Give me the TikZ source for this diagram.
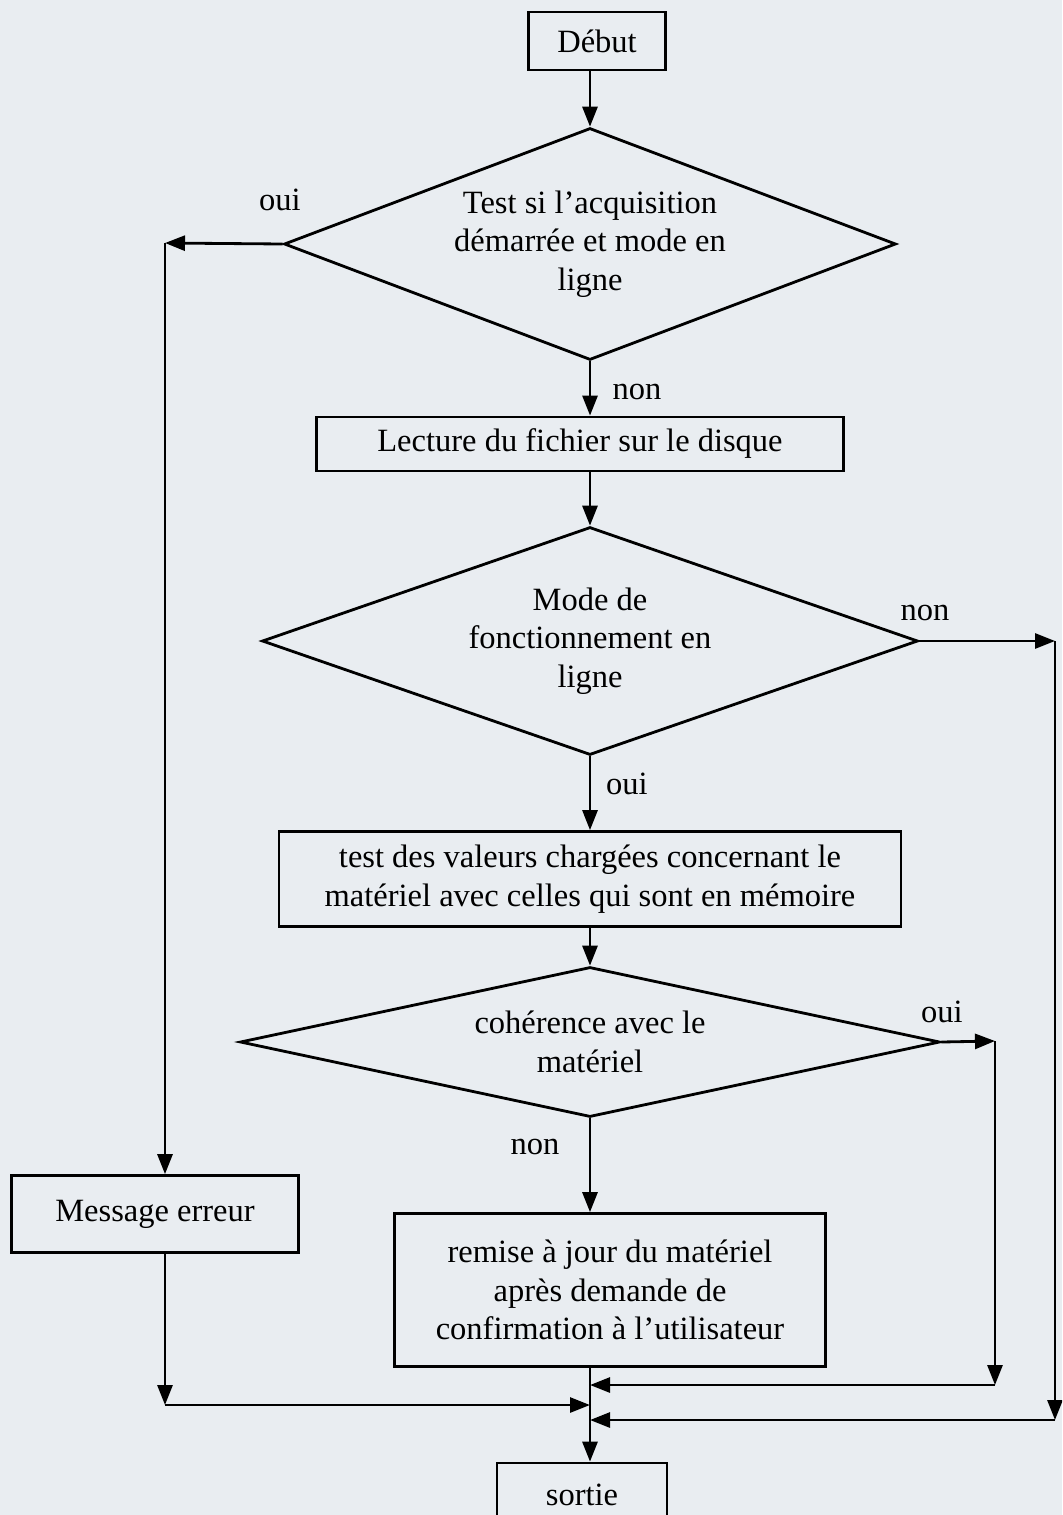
\documentclass[tikz,border=0pt]{standalone}
\usepackage{fontspec}
\setmainfont{Liberation Serif}
\usetikzlibrary{arrows.meta,shapes.geometric,positioning}
\definecolor{paper}{RGB}{233,237,241}

\begin{document}
\begin{tikzpicture}[x=0.02cm,y=-0.02cm,font=\fontsize{18.5}{22}\selectfont,line width=1.6pt,
  >={Triangle[length=4mm,width=3mm]},
  boite/.style={draw,rectangle,align=center,inner sep=0pt},
  losange/.style={draw,diamond,align=center,inner sep=0pt},
  lab/.style={inner sep=0pt}]
\clip (0,0) rectangle (1062,1515);
\fill[paper] (0,0) rectangle (1062,1515);
% blocs
\node[boite,minimum width=2.74cm,minimum height=1.16cm] (debut) at (597,41) {Début};
\node[losange,aspect=2.64,minimum width=12.24cm,minimum height=4.64cm] (d1) at (590,244)
  {Test si l’acquisition\\démarrée et mode en\\ligne};
\node[boite,minimum width=10.54cm,minimum height=1.08cm] (lecture) at (580,444)
  {Lecture du fichier sur le disque};
\node[losange,aspect=2.88,minimum width=13.12cm,minimum height=4.56cm] (d2) at (590,641)
  {Mode de\\fonctionnement en\\ligne};
\node[boite,minimum width=12.44cm,minimum height=1.9cm] (test) at (590,879)
  {test des valeurs chargées concernant le\\matériel avec celles qui sont en mémoire};
\node[losange,aspect=4.67,minimum width=14cm,minimum height=3cm] (d3) at (590,1042)
  {cohérence avec le\\matériel};
\node[boite,minimum width=5.74cm,minimum height=1.54cm] (msg) at (155,1214) {Message erreur};
\node[boite,minimum width=8.62cm,minimum height=3.06cm] (remise) at (610,1290)
  {remise à jour du matériel\\après demande de\\confirmation à l’utilisateur};
\node[boite,minimum width=3.4cm,minimum height=1.28cm] (sortie) at (582,1495) {sortie};
% etiquettes
\node[lab] (l1) at (280,200) {oui};
\node[lab] (l2) at (637,392) {non};
\node[lab] (l3) at (925,613) {non};
\node[lab] (l4) at (627,784) {oui};
\node[lab] (l5) at (942,1012) {oui};
\node[lab] (l6) at (535,1147) {non};
% liaisons
\coordinate (g1) at (165,243);
\coordinate (g2) at (165,1405);
\coordinate (dr1) at (1055,641);
\coordinate (dr2) at (1055,1420);
\coordinate (cr1) at (995,1041);
\coordinate (cr2) at (995,1385);
\draw[->] (d1.north |- debut.south) -- (d1.north);
\draw[->] (d1.south) -- (d1.south |- lecture.north);
\draw[->] (d1.south |- lecture.south) -- (d2.north);
\draw[->] (d2.south) -- (d2.south |- test.north);
\draw[->] (d2.south |- test.south) -- (d3.north);
\draw[->] (d3.south) -- (d3.south |- remise.north);
\draw[->] (d3.south |- remise.south) -- (d3.south |- sortie.north);
\draw[->] (d1.west) -- (g1);
\draw[->] (g1) -- (g1 |- msg.north);
\draw[->] (g1 |- msg.south) -- (g2);
\draw[->] (g2) -- (g2 -| d3.south);
\draw[->] (d2.east) -- (dr1);
\draw[->] (dr1) -- (dr2);
\draw[->] (dr2) -- (dr2 -| d3.south);
\draw[->] (d3.east) -- (cr1);
\draw[->] (cr1) -- (cr2);
\draw[->] (cr2) -- (cr2 -| d3.south);
\end{tikzpicture}
\end{document}
